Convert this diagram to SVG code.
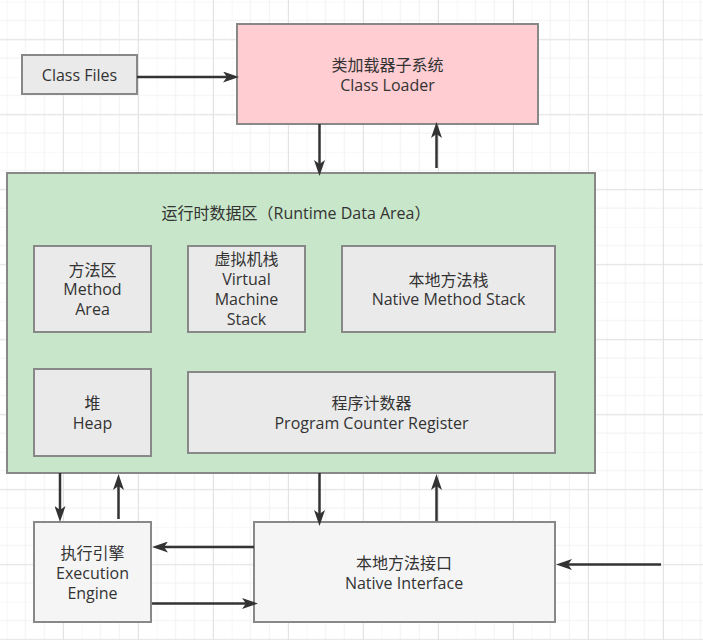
<svg xmlns="http://www.w3.org/2000/svg" width="703" height="640" viewBox="0 0 703 640">
<defs>
<pattern id="grid" patternUnits="userSpaceOnUse" x="6.75" y="1.8" width="75" height="75">
<path d="M18.75,0V75M37.5,0V75M56.25,0V75M0,18.75H75M0,37.5H75M0,56.25H75" stroke="#f1f1f1" stroke-width="1" fill="none"/>
<path d="M0,0V75M0,0H75" stroke="#f1f1f1" stroke-width="1" fill="none"/>
</pattern>
<pattern id="gridMajor" patternUnits="userSpaceOnUse" x="63" y="39.3" width="75" height="75">
<path d="M0.5,0V75M0,0.5H75" stroke="#e3e3e3" stroke-width="1" fill="none"/>
</pattern>
<marker id="arr" markerUnits="userSpaceOnUse" markerWidth="16" markerHeight="11" refX="4" refY="5.5" orient="auto" viewBox="0 0 16 11">
<path d="M0,0 L16,5.5 L0,11 L4,5.5 z" fill="#333"/>
</marker>
<style>
.box{stroke:#888;stroke-width:2}
.t{font-family:"Open Sans","Noto Sans CJK SC",sans-serif;font-size:16px;fill:#333;text-anchor:middle}
.c{stroke:#333;stroke-width:2.5;fill:none;marker-end:url(#arr)}
</style>
</defs>
<rect width="703" height="640" fill="#ffffff"/>
<rect width="703" height="640" fill="url(#grid)"/>
<rect width="703" height="640" fill="url(#gridMajor)"/>

<g id="class-files">
<rect class="box" x="22" y="55" width="115" height="39" fill="#eaeaea"/>
<text class="t" x="79.5" y="80.5">Class Files</text>
</g>
<g id="class-loader">
<rect class="box" x="237" y="24" width="301" height="100" fill="#ffcdd2"/>
<text class="t" x="387.5" y="70.5">类加载器子系统</text>
<text class="t" x="387.5" y="90.5">Class Loader</text>
</g>
<g id="runtime-data-area">
<rect class="box" x="7" y="173" width="588" height="300" fill="#c8e6c9"/>
<text class="t" x="296" y="218.5">运行时数据区（Runtime Data Area）</text>
</g>
<g id="method-area">
<rect class="box" x="34" y="246" width="117" height="86" fill="#eaeaea"/>
<text class="t" x="92.5" y="275.5">方法区</text>
<text class="t" x="92.5" y="295">Method</text>
<text class="t" x="92.5" y="315">Area</text>
</g>
<g id="vm-stack">
<rect class="box" x="188" y="246" width="117" height="86" fill="#eaeaea"/>
<text class="t" x="246.5" y="265">虚拟机栈</text>
<text class="t" x="246.5" y="285">Virtual</text>
<text class="t" x="246.5" y="305">Machine</text>
<text class="t" x="246.5" y="325">Stack</text>
</g>
<g id="native-method-stack">
<rect class="box" x="342" y="246" width="213" height="86" fill="#eaeaea"/>
<text class="t" x="448.5" y="285.5">本地方法栈</text>
<text class="t" x="448.5" y="305">Native Method Stack</text>
</g>
<g id="heap">
<rect class="box" x="34" y="369" width="117" height="87" fill="#eaeaea"/>
<text class="t" x="92.5" y="408.5">堆</text>
<text class="t" x="92.5" y="428.5">Heap</text>
</g>
<g id="pc-register">
<rect class="box" x="188" y="372" width="367" height="81" fill="#eaeaea"/>
<text class="t" x="371.5" y="409">程序计数器</text>
<text class="t" x="371.5" y="428.5">Program Counter Register</text>
</g>
<g id="execution-engine">
<rect class="box" x="34" y="522" width="117" height="100" fill="#f5f5f5"/>
<text class="t" x="92.5" y="558.5">执行引擎</text>
<text class="t" x="92.5" y="578.5">Execution</text>
<text class="t" x="92.5" y="598.5">Engine</text>
</g>
<g id="native-interface">
<rect class="box" x="254" y="522" width="301" height="100" fill="#f5f5f5"/>
<text class="t" x="404" y="569">本地方法接口</text>
<text class="t" x="404" y="588.5">Native Interface</text>
</g>

<g id="connectors">
<line class="c" x1="137" y1="77" x2="227" y2="77"/>
<line class="c" x1="319.5" y1="124" x2="319.5" y2="164"/>
<line class="c" x1="436.5" y1="168" x2="436.5" y2="134"/>
<line class="c" x1="60" y1="473" x2="60" y2="510"/>
<line class="c" x1="118.5" y1="519" x2="118.5" y2="486"/>
<line class="c" x1="254" y1="547" x2="164" y2="547"/>
<line class="c" x1="152" y1="603.5" x2="246" y2="603.5"/>
<line class="c" x1="319.5" y1="473" x2="319.5" y2="514"/>
<line class="c" x1="436.5" y1="521" x2="436.5" y2="486"/>
<line class="c" x1="661" y1="564.5" x2="568" y2="564.5"/>
</g>
</svg>
